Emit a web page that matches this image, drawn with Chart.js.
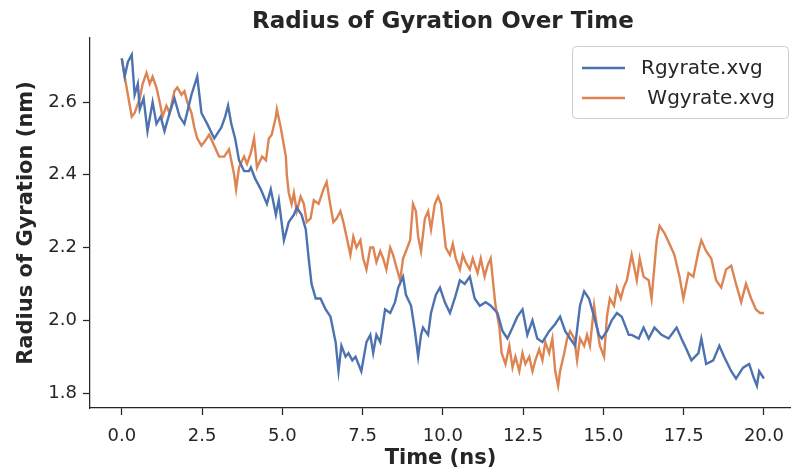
<!DOCTYPE html>
<html>
<head>
<meta charset="utf-8">
<title>Radius of Gyration Over Time</title>
<script src="https://cdn.jsdelivr.net/npm/chart.js@4.4.1/dist/chart.umd.min.js"></script>
<style>
  html, body { margin: 0; padding: 0; background: #fff; }
  #wrap { width: 795px; height: 470px; }
</style>
</head>
<body>
<div id="wrap"><canvas id="chart" width="795" height="470"></canvas></div>
<script>
// Valeurs (temps en ns, rayon en nm)
const rgTime = [0.00,0.09,0.19,0.31,0.40,0.50,0.56,0.68,0.80,0.96,1.08,1.21,1.33,1.49,1.64,1.80,1.95,2.17,2.35,2.48,
  2.66,2.88,3.10,3.22,3.31,3.41,3.53,3.65,3.81,3.96,4.02,4.15,4.33,4.52,4.64,4.80,4.89,5.05,5.20,5.36,
  5.45,5.60,5.73,5.82,5.91,6.04,6.19,6.35,6.50,6.59,6.66,6.75,6.84,6.97,7.06,7.18,7.28,7.37,7.46,7.62,
  7.74,7.83,7.93,8.05,8.20,8.36,8.51,8.61,8.76,8.85,9.01,9.13,9.23,9.32,9.38,9.54,9.63,9.78,9.91,10.06,
  10.22,10.37,10.53,10.68,10.84,10.99,11.15,11.33,11.49,11.70,11.86,12.01,12.17,12.32,12.48,12.63,12.79,12.94,13.10,13.31,
  13.50,13.65,13.81,13.96,14.12,14.27,14.40,14.55,14.71,14.86,14.95,15.11,15.26,15.42,15.57,15.79,15.88,16.10,16.25,16.41,
  16.59,16.81,17.03,17.28,17.43,17.59,17.74,17.96,18.05,18.20,18.42,18.61,18.76,18.98,19.13,19.35,19.54,19.69,19.78,19.85,20.00];
const rgValues = [2.72,2.67,2.71,2.73,2.62,2.65,2.58,2.61,2.52,2.60,2.54,2.56,2.52,2.57,2.61,2.56,2.54,2.62,2.67,2.57,
  2.54,2.50,2.53,2.56,2.59,2.54,2.50,2.44,2.41,2.41,2.42,2.39,2.36,2.32,2.36,2.29,2.33,2.22,2.27,2.29,
  2.31,2.29,2.25,2.17,2.10,2.06,2.06,2.03,2.01,1.97,1.94,1.86,1.93,1.90,1.91,1.89,1.90,1.88,1.86,1.94,
  1.96,1.91,1.96,1.94,2.03,2.02,2.05,2.09,2.12,2.07,2.04,1.97,1.90,1.96,1.98,1.96,2.02,2.07,2.09,2.05,
  2.02,2.06,2.11,2.10,2.12,2.06,2.04,2.05,2.04,2.02,1.97,1.95,1.98,2.01,2.03,1.96,2.00,1.95,1.94,1.97,
  1.99,2.01,1.97,1.95,1.93,2.04,2.08,2.06,2.01,1.96,1.95,1.97,2.00,2.02,2.01,1.96,1.96,1.95,1.98,1.95,
  1.98,1.96,1.95,1.98,1.95,1.92,1.89,1.91,1.95,1.88,1.89,1.93,1.90,1.86,1.84,1.87,1.88,1.84,1.82,1.86,1.84];

const wgTime = [0.00,0.09,0.19,0.31,0.40,0.56,0.65,0.77,0.87,0.96,1.08,1.18,1.27,1.39,1.49,1.64,1.73,1.86,1.95,2.04,
  2.17,2.26,2.35,2.48,2.57,2.72,2.88,3.03,3.19,3.34,3.50,3.56,3.65,3.75,3.81,3.90,4.02,4.12,4.21,4.37,
  4.49,4.58,4.67,4.80,4.83,4.95,5.05,5.11,5.14,5.20,5.29,5.36,5.45,5.57,5.67,5.76,5.88,5.98,6.13,6.28,
  6.38,6.47,6.59,6.69,6.81,6.90,7.00,7.12,7.21,7.31,7.43,7.52,7.62,7.74,7.83,7.93,8.05,8.14,8.24,8.36,
  8.45,8.54,8.67,8.76,8.85,8.98,9.07,9.16,9.23,9.32,9.44,9.54,9.63,9.75,9.85,9.94,10.03,10.09,10.22,10.31,
  10.40,10.53,10.62,10.71,10.84,10.93,11.08,11.18,11.30,11.39,11.49,11.58,11.64,11.76,11.83,11.95,12.07,12.17,12.26,12.38,
  12.48,12.57,12.69,12.79,12.88,13.00,13.10,13.19,13.31,13.41,13.50,13.59,13.65,13.78,13.87,13.96,14.09,14.18,14.27,14.40,
  14.49,14.58,14.71,14.80,14.89,15.02,15.11,15.20,15.33,15.42,15.54,15.63,15.73,15.88,16.04,16.13,16.25,16.41,16.50,16.66,
  16.75,16.90,17.06,17.21,17.37,17.49,17.65,17.80,17.96,18.05,18.20,18.36,18.51,18.67,18.82,18.98,19.13,19.29,19.44,19.60,
  19.75,19.88,20.00];
const wgValues = [2.72,2.67,2.62,2.56,2.57,2.61,2.65,2.68,2.65,2.67,2.64,2.60,2.56,2.59,2.57,2.63,2.64,2.62,2.63,2.60,
  2.57,2.53,2.50,2.48,2.49,2.51,2.48,2.45,2.45,2.47,2.40,2.36,2.42,2.44,2.45,2.43,2.46,2.50,2.42,2.45,
  2.44,2.50,2.51,2.56,2.58,2.53,2.48,2.45,2.40,2.35,2.32,2.35,2.30,2.34,2.32,2.27,2.28,2.33,2.32,2.36,
  2.38,2.33,2.27,2.28,2.30,2.27,2.23,2.18,2.23,2.20,2.22,2.17,2.14,2.20,2.20,2.16,2.19,2.17,2.14,2.20,
  2.18,2.15,2.11,2.17,2.19,2.22,2.32,2.30,2.23,2.19,2.28,2.30,2.25,2.32,2.34,2.32,2.25,2.20,2.18,2.21,
  2.17,2.14,2.18,2.16,2.14,2.17,2.13,2.17,2.12,2.15,2.17,2.09,2.04,1.98,1.91,1.88,1.93,1.87,1.90,1.86,
  1.91,1.88,1.90,1.86,1.89,1.92,1.89,1.94,1.91,1.95,1.86,1.82,1.86,1.91,1.95,1.97,1.95,1.89,1.95,1.93,
  1.96,1.93,2.04,1.98,1.93,1.90,2.01,2.06,2.04,2.09,2.06,2.09,2.11,2.18,2.11,2.17,2.12,2.11,2.06,2.22,
  2.26,2.24,2.21,2.18,2.12,2.06,2.13,2.12,2.19,2.22,2.19,2.17,2.11,2.09,2.14,2.15,2.10,2.05,2.10,2.06,
  2.03,2.02,2.02];

const seriesLabels = ['Rgyrate.xvg', ' Wgyrate.xvg'];
const seriesColors = ['#4c72b0', '#dd8452'];
const xTicks = [0, 2.5, 5, 7.5, 10, 12.5, 15, 17.5, 20];
const yTicks = [1.8, 2.0, 2.2, 2.4, 2.6];

const inkColor = '#262626';

// Titre centré sur les axes (comme matplotlib)
const titlePlugin = {
  id: 'axesTitle',
  afterDraw(chart) {
    const ctx = chart.ctx;
    const x = chart.scales.x.getPixelForValue(10);
    ctx.save();
    ctx.font = 'bold 23px "DejaVu Sans"';
    ctx.fillStyle = inkColor;
    ctx.textAlign = 'center';
    ctx.textBaseline = 'middle';
    ctx.fillText('Radius of Gyration Over Time', x, 22);
    ctx.restore();
  }
};

// Légende dessinée à la main dans le coin haut droit
const legendPlugin = {
  id: 'boxLegend',
  afterDraw(chart) {
    const ctx = chart.ctx;
    const box = { x: 572, y: 46, w: 216, h: 72 };
    ctx.save();
    ctx.fillStyle = 'rgba(255,255,255,0.8)';
    ctx.strokeStyle = '#cccccc';
    ctx.lineWidth = 1;
    ctx.beginPath();
    ctx.roundRect(box.x + 0.5, box.y + 0.5, box.w, box.h, 4);
    ctx.fill();
    ctx.stroke();
    ctx.font = '20px "DejaVu Sans"';
    ctx.textBaseline = 'middle';
    chart.data.datasets.forEach((ds, i) => {
      const y = box.y + 22 + i * 30;
      ctx.strokeStyle = ds.borderColor;
      ctx.lineWidth = 2.5;
      ctx.beginPath();
      ctx.moveTo(582, y);
      ctx.lineTo(625, y);
      ctx.stroke();
      ctx.fillStyle = inkColor;
      ctx.fillText(ds.label, 641, y + 1);
    });
    ctx.restore();
  }
};

const ctx = document.getElementById('chart').getContext('2d');
new Chart(ctx, {
  type: 'line',
  data: {
    datasets: [
      {
        label: seriesLabels[0],
        data: rgTime.map((t, i) => ({ x: t, y: rgValues[i] })),
        borderColor: seriesColors[0],
        borderWidth: 2.4,
        pointRadius: 0,
        tension: 0
      },
      {
        label: seriesLabels[1],
        data: wgTime.map((t, i) => ({ x: t, y: wgValues[i] })),
        borderColor: seriesColors[1],
        borderWidth: 2.4,
        pointRadius: 0,
        tension: 0
      }
    ]
  },
  options: {
    responsive: false,
    animation: false,
    devicePixelRatio: 1,
    layout: { padding: { top: 38, right: 0, bottom: 0, left: 0 } },
    plugins: {
      legend: { display: false },
      title: { display: false },
      tooltip: { enabled: false }
    },
    scales: {
      x: {
        type: 'linear',
        min: -0.99,
        max: 20.84,
        afterFit: (scale) => { scale.height = 62; },
        afterBuildTicks: (scale) => { scale.ticks = xTicks.map(v => ({ value: v })); },
        ticks: {
          color: inkColor,
          font: { family: 'DejaVu Sans', size: 18 },
          padding: 11,
          maxRotation: 0,
          callback: (v) => Number(v).toFixed(1)
        },
        grid: { drawOnChartArea: false, drawTicks: true, tickLength: 7, tickWidth: 1.25, color: inkColor },
        border: { display: true, color: inkColor, width: 1.25 },
        title: {
          display: true,
          text: 'Time (ns)',
          color: inkColor,
          font: { family: 'DejaVu Sans', size: 21, weight: 'bold' },
          padding: { top: 0, bottom: -1 }
        }
      },
      y: {
        type: 'linear',
        min: 1.759,
        max: 2.776,
        afterFit: (scale) => { scale.width = 90; },
        afterBuildTicks: (scale) => { scale.ticks = yTicks.map(v => ({ value: v })); },
        ticks: {
          color: inkColor,
          font: { family: 'DejaVu Sans', size: 18 },
          padding: 6,
          callback: (v) => Number(v).toFixed(1)
        },
        grid: { drawOnChartArea: false, drawTicks: true, tickLength: 7, tickWidth: 1.25, color: inkColor },
        border: { display: true, color: inkColor, width: 1.25 },
        title: {
          display: true,
          text: 'Radius of Gyration (nm)',
          color: inkColor,
          font: { family: 'DejaVu Sans', size: 21, weight: 'bold' },
          padding: { top: 14, bottom: 0 }
        }
      }
    }
  },
  plugins: [titlePlugin, legendPlugin]
});
</script>
</body>
</html>
